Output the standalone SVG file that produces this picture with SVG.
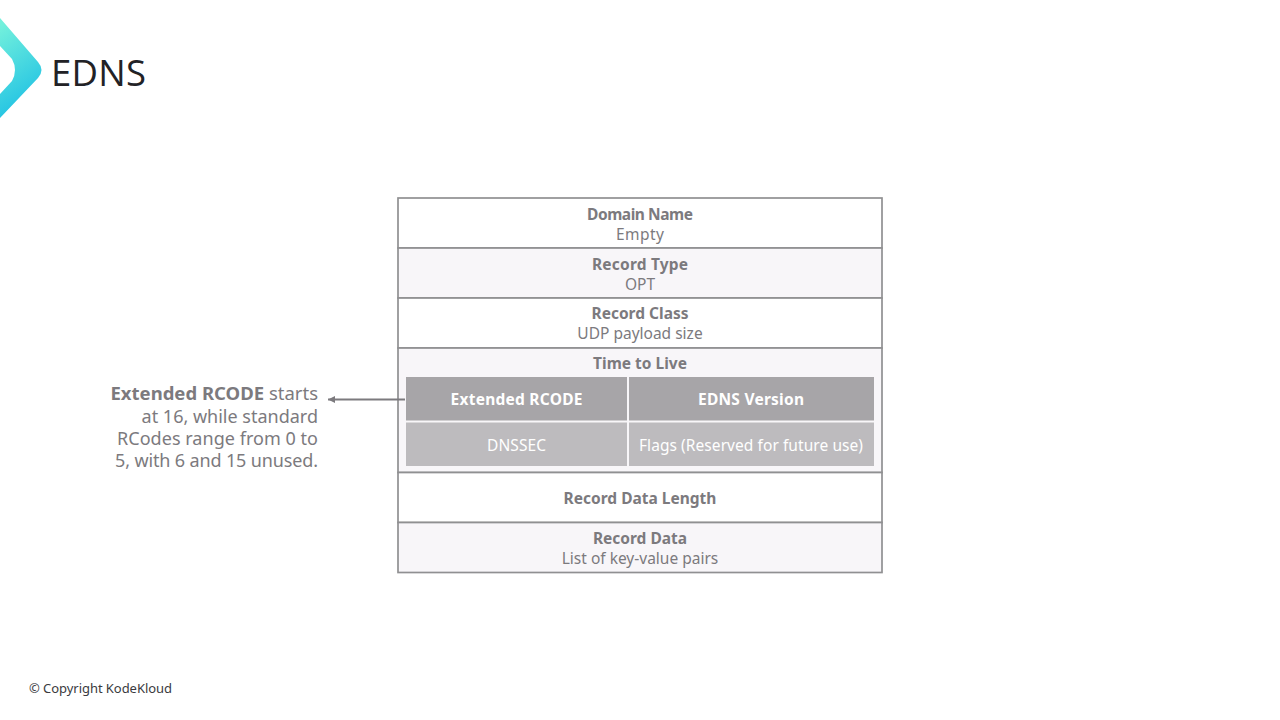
<svg xmlns="http://www.w3.org/2000/svg" width="1280" height="720" viewBox="0 0 1280 720">
<style>
text{font-family:"Noto Sans","Open Sans",sans-serif;fill:#7c7a7e;font-size:15.5px;text-anchor:middle}
.b{font-weight:700}
.w{fill:#fff}
.row{stroke:#909092;stroke-width:1.7}
.note{font-size:18px;text-anchor:end}
</style>
<defs>
<linearGradient id="g" x1="0.2" y1="0" x2="0.5" y2="1"><stop offset="0" stop-color="#74f1dc"/><stop offset="1" stop-color="#1cbfe4"/></linearGradient>
<marker id="arr" markerUnits="userSpaceOnUse" markerWidth="8" markerHeight="8" refX="7" refY="3.500" orient="auto"><path d="M0 0L7 3.500L0 7Z" fill="#7c7a7e"/></marker>
</defs>
<g id="logo"><path d="M0 18L38 62Q45 70 38 78L0 118V94L12 81Q18 70 12 59L0 46Z" fill="url(#g)"/></g>
<text x="51" y="86" style="font-family:'Open Sans','Noto Sans',sans-serif;font-size:36.500px;text-anchor:start;fill:#222226" textLength="95">EDNS</text>
<g id="domain-name"><rect class="row" x="398" y="198" width="484" height="50" fill="#fff"/><text class="b" x="640" y="220" textLength="106">Domain Name</text><text x="640" y="239.500" textLength="48">Empty</text></g>
<g id="record-type"><rect class="row" x="398" y="248" width="484" height="50" fill="#f8f6f9"/><text class="b" x="640" y="270" textLength="96">Record Type</text><text x="640" y="289.500">OPT</text></g>
<g id="record-class"><rect class="row" x="398" y="298" width="484" height="50" fill="#fff"/><text class="b" x="640" y="319">Record Class</text><text x="640" y="338.500">UDP payload size</text></g>
<g id="ttl"><rect class="row" x="398" y="348" width="484" height="124.500" fill="#f8f6f9"/><text class="b" x="640" y="369">Time to Live</text></g>
<g id="extended-rcode"><rect x="406" y="377" width="221" height="43.500" fill="#a7a5a8"/><text class="b w" x="516.500" y="405" textLength="132">Extended RCODE</text></g>
<g id="edns-version"><rect x="629" y="377" width="245" height="43.500" fill="#a7a5a8"/><text class="b w" x="751" y="405" textLength="106">EDNS Version</text></g>
<g id="dnssec"><rect x="406" y="422.500" width="221" height="43.500" fill="#bdbbbe"/><text class="w" x="516.500" y="451" textLength="59">DNSSEC</text></g>
<g id="flags"><rect x="629" y="422.500" width="245" height="43.500" fill="#bdbbbe"/><text class="w" x="751" y="451" textLength="224">Flags (Reserved for future use)</text></g>
<g id="record-data-length"><rect class="row" x="398" y="472.500" width="484" height="50" fill="#fff"/><text class="b" x="640" y="504">Record Data Length</text></g>
<g id="record-data"><rect class="row" x="398" y="522.500" width="484" height="50" fill="#f8f6f9"/><text class="b" x="640" y="544">Record Data</text><text x="640" y="563.500">List of key-value pairs</text></g>
<g id="connectors"><path d="M405 399.500H328" fill="none" stroke="#7c7a7e" stroke-width="2" marker-end="url(#arr)"/></g>
<g id="note">
<text class="note" x="318" y="400" style="font-size:18.500px"><tspan class="b">Extended RCODE</tspan> starts</text>
<text class="note" x="318" y="422.500">at 16, while standard</text>
<text class="note" x="318" y="444.500" textLength="201">RCodes range from 0 to</text>
<text class="note" x="318" y="467" textLength="203">5, with 6 and 15 unused.</text>
</g>
<text x="29" y="692.500" style="font-size:13px;text-anchor:start;fill:#3a3a3e" textLength="143">© Copyright KodeKloud</text>
</svg>
